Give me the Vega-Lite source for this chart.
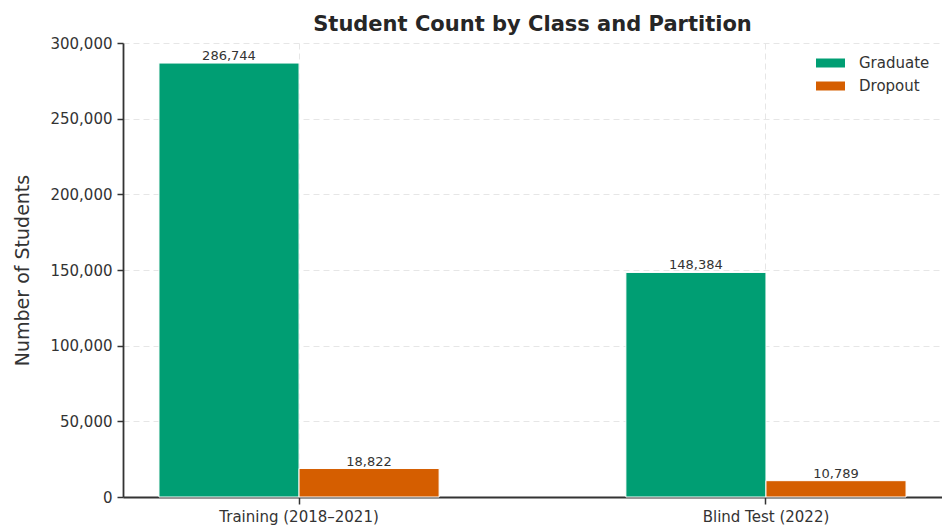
{
  "$schema": "https://vega.github.io/schema/vega-lite/v6.json",
  "width": 819,
  "height": 454,
  "autosize": {"type": "none"},
  "padding": {"left": 123, "top": 43, "right": 0, "bottom": 33},
  "background": "white",
  "config": {
    "font": "DejaVu Sans",
    "view": {"stroke": null}
  },
  "title": {
    "text": "Student Count by Class and Partition",
    "fontSize": 21,
    "fontWeight": "bold",
    "color": "#262626",
    "anchor": "middle",
    "baseline": "bottom",
    "offset": 9,
    "dy": 29
  },
  "data": {
    "values": [
      {"partition": "Training (2018–2021)", "class": "Graduate", "count": 286744},
      {"partition": "Training (2018–2021)", "class": "Dropout", "count": 18822},
      {"partition": "Blind Test (2022)", "class": "Graduate", "count": 148384},
      {"partition": "Blind Test (2022)", "class": "Dropout", "count": 10789}
    ]
  },
  "encoding": {
    "x": {
      "field": "partition",
      "type": "nominal",
      "sort": ["Training (2018–2021)", "Blind Test (2022)"],
      "scale": {"paddingInner": 0.4, "paddingOuter": 0.077},
      "axis": {
        "title": null,
        "labelAngle": 0,
        "labelFontSize": 15,
        "labelColor": "#333333",
        "labelPadding": 5,
        "tickSize": 7,
        "tickWidth": 1.5,
        "tickColor": "#333333",
        "domainColor": "#333333",
        "domainWidth": 1.8,
        "grid": true,
        "gridColor": "#e6e6e6",
        "gridDash": [6, 4],
        "gridWidth": 1
      }
    },
    "xOffset": {
      "field": "class",
      "type": "nominal",
      "sort": ["Graduate", "Dropout"],
      "scale": {"paddingInner": 0, "paddingOuter": 0}
    },
    "y": {
      "field": "count",
      "type": "quantitative",
      "scale": {"domain": [0, 300000], "nice": false},
      "axis": {
        "title": "Number of Students",
        "titleFontSize": 19,
        "titleFontWeight": "normal",
        "titleColor": "#333333",
        "titleX": -101,
        "titleY": 227,
        "titleAngle": 270,
        "titleAlign": "center",
        "titleBaseline": "middle",
        "values": [0, 50000, 100000, 150000, 200000, 250000, 300000],
        "format": ",.0f",
        "labelFontSize": 15,
        "labelColor": "#333333",
        "labelPadding": 5,
        "tickSize": 6,
        "tickWidth": 1.5,
        "tickColor": "#333333",
        "domainColor": "#333333",
        "domainWidth": 1.8,
        "gridColor": "#e6e6e6",
        "gridDash": [6, 4],
        "gridWidth": 1
      }
    }
  },
  "layer": [
    {
      "mark": {"type": "bar", "stroke": "white", "strokeWidth": 1},
      "encoding": {
        "color": {
          "field": "class",
          "type": "nominal",
          "sort": ["Graduate", "Dropout"],
          "scale": {"domain": ["Graduate", "Dropout"], "range": ["#009E73", "#D55E00"]},
          "legend": {
            "title": null,
            "orient": "none",
            "legendX": 697.5,
            "legendY": 10,
            "padding": 0,
            "symbolType": "M-1.45,-0.45H1.45V0.45H-1.45Z",
            "symbolSize": 400,
            "symbolStrokeWidth": 0,
            "symbolOpacity": 1,
            "labelFontSize": 15,
            "labelColor": "#333333",
            "labelOffset": 18.5,
            "rowPadding": 5
          }
        }
      }
    },
    {
      "mark": {"type": "text", "baseline": "bottom", "dy": 0, "fontSize": 13, "color": "#333333"},
      "encoding": {
        "text": {"field": "count", "type": "quantitative", "format": ","}
      }
    }
  ]
}
